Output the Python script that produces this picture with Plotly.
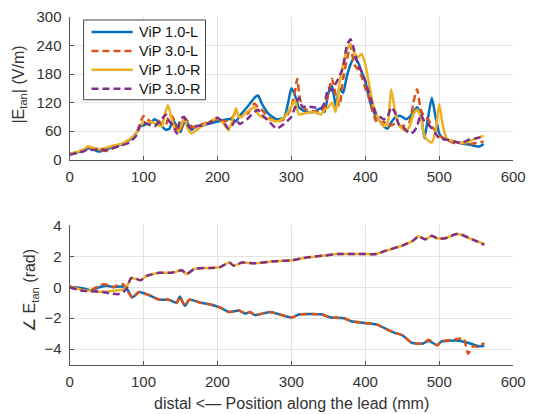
import plotly.graph_objects as go

# ---- |E_tan| magnitude along the lead (V/m) ----
mag_l1_x = [0, 10, 20, 25, 30, 40, 50, 60, 70, 80, 90, 95, 100, 110, 115, 120, 125, 130, 135, 140,
            145, 150, 155, 160, 165, 170, 180, 190, 200, 210, 220, 225, 230, 240, 245, 250, 255, 260,
            265, 270, 280, 290, 295, 300, 305, 310, 320, 330, 340, 345, 350, 355, 360, 365, 370, 375,
            380, 385, 390, 395, 400, 405, 410, 415, 420, 425, 430, 435, 440, 445, 450, 455, 460, 465,
            470, 475, 480, 485, 490, 495, 500, 505, 510, 520, 530, 540, 550, 555, 560]
mag_l1_y = [12, 15, 20, 24, 22, 17, 22, 27, 32, 40, 55, 70, 72, 78, 85, 80, 70, 63, 65, 82,
            72, 58, 78, 76, 62, 70, 72, 76, 80, 84, 85, 80, 92, 110, 120, 130, 135, 118,
            105, 95, 85, 88, 115, 150, 135, 110, 100, 100, 108, 100, 140, 155, 113, 150, 140, 175,
            200, 215, 205, 185, 165, 130, 105, 90, 80, 70, 65, 78, 88, 92, 90, 85, 90, 100,
            110, 95, 45, 90, 130, 90, 55, 45, 42, 38, 34, 32, 28, 28, 33]

mag_l3_x = [0, 10, 20, 25, 30, 40, 50, 60, 70, 80, 90, 95, 100, 105, 110, 115, 120, 125, 130, 135,
            140, 145, 150, 155, 160, 165, 170, 180, 190, 200, 210, 220, 225, 230, 240, 250, 255, 260,
            270, 280, 290, 295, 300, 305, 308, 312, 320, 330, 340, 345, 350, 355, 360, 365, 370, 375,
            380, 385, 390, 395, 400, 405, 410, 415, 420, 425, 430, 440, 450, 460, 465, 470, 475, 480,
            485, 490, 495, 500, 510, 520, 530, 540, 550, 560]
mag_l3_y = [12, 15, 22, 26, 22, 20, 18, 25, 30, 38, 52, 75, 92, 85, 80, 78, 82, 75, 72, 95,
            88, 65, 60, 88, 80, 70, 68, 75, 80, 85, 80, 88, 100, 90, 95, 118, 110, 105,
            88, 80, 85, 95, 110, 145, 170, 125, 105, 102, 100, 110, 140, 170, 135, 113, 170, 210,
            240, 200, 190, 175, 150, 130, 100, 80, 75, 80, 70, 75, 70, 80, 120, 148, 105, 90,
            85, 70, 60, 50, 42, 35, 35, 32, 35, 38]

mag_r1_x = [0, 10, 20, 25, 30, 40, 50, 60, 70, 80, 90, 95, 100, 105, 110, 120, 125, 128, 133, 140,
            145, 150, 155, 160, 165, 170, 180, 190, 200, 210, 215, 220, 225, 230, 240, 250, 255, 260,
            270, 280, 290, 300, 305, 310, 320, 330, 340, 345, 350, 355, 360, 365, 370, 375, 380, 385,
            390, 395, 400, 405, 410, 415, 420, 425, 430, 435, 440, 445, 450, 455, 460, 465, 470, 475,
            480, 485, 490, 495, 500, 505, 510, 520, 530, 540, 550, 560]
mag_r1_y = [12, 16, 22, 28, 26, 22, 25, 30, 33, 42, 55, 68, 80, 75, 80, 72, 70, 90, 115, 75,
            55, 68, 88, 65, 55, 60, 72, 80, 88, 72, 62, 82, 108, 88, 100, 110, 95, 90,
            85, 80, 88, 112, 125, 95, 98, 100, 95, 105, 110, 120, 100, 160, 200, 230, 243, 225,
            215, 222, 200, 160, 120, 95, 80, 70, 75, 148, 105, 75, 65, 60, 70, 95, 105, 90,
            50, 40, 36, 60, 117, 70, 45, 38, 35, 38, 45, 50]

mag_r3_x = [0, 10, 20, 25, 30, 40, 50, 60, 70, 80, 90, 95, 100, 110, 115, 120, 125, 130, 135, 140,
            145, 150, 155, 160, 165, 170, 180, 190, 200, 210, 215, 220, 225, 230, 240, 250, 255, 260,
            270, 280, 290, 300, 305, 310, 315, 320, 330, 340, 345, 350, 355, 360, 365, 370, 375, 380,
            385, 390, 395, 400, 405, 410, 415, 420, 425, 430, 435, 440, 445, 450, 455, 460, 465, 470,
            475, 480, 485, 490, 495, 500, 510, 520, 530, 540, 550, 560]
mag_r3_y = [10, 14, 18, 22, 20, 22, 20, 25, 30, 35, 50, 70, 78, 72, 70, 78, 85, 95, 80, 72,
            55, 85, 90, 72, 65, 70, 72, 78, 88, 75, 65, 72, 85, 75, 85, 100, 105, 95,
            80, 65, 75, 90, 110, 130, 110, 112, 110, 108, 120, 150, 145, 160, 175, 195, 240, 253,
            230, 200, 185, 165, 140, 115, 95, 90, 85, 90, 110, 100, 75, 70, 62, 55, 58, 70,
            95, 80, 75, 65, 55, 45, 42, 38, 35, 42, 45, 48]

# ---- phase of E_tan along the lead (rad) ----
ph_l1_x = [0, 10, 19, 30, 40, 50, 60, 68, 76, 85, 94, 107, 121, 134, 145, 149, 156, 162, 178, 189,
           203, 216, 229, 238, 244, 251, 271, 300, 311, 340, 353, 371, 381, 397, 415, 437, 450, 463,
           477, 486, 497, 503, 525, 540, 552, 561]
ph_l1_y = [0.02, -0.02, -0.07, -0.2, 0.0, 0.1, 0.02, 0.05, 0.0, -0.65, -0.3, -0.5, -0.8, -0.8, -1.0, -0.6,
           -1.2, -0.8, -1.0, -1.1, -1.3, -1.6, -1.5, -1.7, -1.6, -1.8, -1.6, -1.95, -1.75, -1.75, -1.95,
           -2.0, -2.2, -2.3, -2.4, -2.9, -3.1, -3.6, -3.65, -3.45, -3.75, -3.5, -3.45, -3.6, -3.8, -3.8]

ph_l3_x = [0, 10, 19, 30, 38, 46, 52, 59, 67, 72, 76, 85, 94, 107, 121, 134, 145, 149, 156, 162,
           178, 189, 203, 216, 229, 238, 244, 251, 271, 300, 311, 340, 353, 371, 381, 397, 415, 437,
           450, 463, 477, 486, 497, 503, 525, 533, 539, 546, 552, 561]
ph_l3_y = [0.05, -0.05, -0.2, -0.15, 0.05, 0.2, 0.15, 0.0, 0.2, 0.2, 0.0, -0.7, -0.3, -0.5, -0.8, -0.8,
           -1.0, -0.6, -1.2, -0.8, -1.0, -1.1, -1.3, -1.6, -1.5, -1.7, -1.6, -1.8, -1.6, -1.95, -1.75,
           -1.75, -1.95, -2.0, -2.2, -2.3, -2.4, -2.9, -3.1, -3.6, -3.65, -3.4, -3.75, -3.5, -3.35,
           -3.3, -4.3, -3.8, -3.85, -3.6]

ph_r1_x = [0, 15, 28, 45, 63, 72, 78, 83, 90, 96, 105, 121, 138, 152, 158, 169, 189, 203, 216, 222,
           233, 251, 273, 300, 317, 344, 362, 381, 397, 415, 428, 450, 464, 472, 481, 490, 497, 508,
           523, 530, 547, 561]
ph_r1_y = [0.0, -0.15, -0.22, -0.3, -0.2, -0.15, 0.1, 0.55, 0.55, 0.45, 0.75, 0.94, 0.94, 1.1, 0.85, 1.2,
           1.25, 1.3, 1.6, 1.4, 1.6, 1.55, 1.67, 1.75, 1.9, 2.05, 2.15, 2.15, 2.15, 2.15, 2.37, 2.7,
           3.0, 3.3, 3.1, 3.33, 3.17, 3.17, 3.44, 3.4, 3.05, 2.8]

ph_r3_x = [0, 15, 28, 45, 55, 65, 72, 78, 83, 90, 96, 105, 121, 138, 152, 158, 169, 189, 203, 216,
           222, 233, 251, 273, 300, 317, 344, 362, 381, 397, 415, 428, 450, 464, 472, 481, 490, 497,
           508, 523, 530, 547, 561]
ph_r3_y = [0.0, -0.2, -0.25, -0.3, -0.4, -0.45, -0.35, 0.0, 0.6, 0.55, 0.45, 0.75, 0.94, 0.94, 1.1,
           0.85, 1.2, 1.25, 1.3, 1.6, 1.4, 1.6, 1.55, 1.67, 1.75, 1.9, 2.05, 2.15, 2.15, 2.15, 2.15,
           2.37, 2.7, 3.0, 3.3, 3.1, 3.33, 3.17, 3.17, 3.44, 3.4, 3.05, 2.75]

names = ["ViP 1.0-L", "ViP 3.0-L", "ViP 1.0-R", "ViP 3.0-R"]
colors = ["#0072BD", "#D95319", "#EDB120", "#7E2F8E"]
dashes = ["solid", "7px,4px", "solid", "7px,4px"]

mag_series = [(mag_l1_x, mag_l1_y), (mag_l3_x, mag_l3_y), (mag_r1_x, mag_r1_y), (mag_r3_x, mag_r3_y)]
ph_series = [(ph_l1_x, ph_l1_y), (ph_l3_x, ph_l3_y), (ph_r1_x, ph_r1_y), (ph_r3_x, ph_r3_y)]

W, H = 536, 414
# drawing area of the page: origin and size in screen pixels
OX, OY, PW, PH = 4.0, 8.0, 528.0, 398.0


def fx(px):
    return (px - OX) / PW


def fy(py):
    return 1 - (py - OY) / PH


fig = go.Figure()
for (x, y), name, c, d in zip(mag_series, names, colors, dashes):
    fig.add_trace(go.Scatter(x=x, y=y, mode="lines", name=name, showlegend=False,
                             line=dict(color=c, width=2.5, dash=d, shape="spline", smoothing=0.5),
                             xaxis="x", yaxis="y"))
for (x, y), name, c, d in zip(ph_series, names, colors, dashes):
    fig.add_trace(go.Scatter(x=x, y=y, mode="lines", name=name, showlegend=False,
                             line=dict(color=c, width=2.5, dash=d, shape="spline", smoothing=0.5),
                             xaxis="x2", yaxis="y2"))

FONT = "Liberation Sans, Arial, sans-serif"
TXT = "#333333"
GRID = "#e3e3e3"
AX = "#555555"

axis_common = dict(showgrid=True, gridcolor=GRID, gridwidth=1, showline=True, linecolor=AX,
                   linewidth=1, ticks="inside", ticklen=4, tickcolor=AX, zeroline=False,
                   tickfont=dict(family=FONT, size=15, color=TXT), mirror=False,
                   ticklabeloverflow="allow")

xdom = [fx(70.7), fx(522)]
xticks = [0, 100, 200, 300, 400, 500, 600]
fig.update_layout(
    width=W, height=H,
    margin=dict(l=0, r=0, t=0, b=0),
    paper_bgcolor="white", plot_bgcolor="white",
    font=dict(family=FONT, color=TXT),
    xaxis=dict(domain=xdom, range=[0, 600], tickvals=xticks, anchor="y", ticklabelstandoff=3,
               **axis_common),
    yaxis=dict(domain=[fy(159), fy(16)], range=[0, 300],
               tickvals=[0, 60, 120, 180, 240, 300], anchor="x", ticklabelstandoff=4, **axis_common),
    xaxis2=dict(domain=xdom, range=[0, 600], tickvals=xticks, anchor="y2", ticklabelstandoff=3,
                **axis_common),
    yaxis2=dict(domain=[fy(364.5), fy(225)], range=[-5, 4],
                tickvals=[-4, -2, 0, 2, 4], anchor="x2", ticklabelstandoff=4, **axis_common),
    showlegend=False,
)

# legend box with line samples and labels
fig.add_shape(type="rect", xref="paper", yref="paper", x0=fx(85), x1=fx(209), y0=fy(99), y1=fy(19),
              line=dict(color="#444444", width=1), fillcolor="white", layer="above")
for i, (name, c, d) in enumerate(zip(names, colors, dashes)):
    ry = 31 + i * 19
    fig.add_shape(type="line", xref="paper", yref="paper", x0=fx(93), x1=fx(135), y0=fy(ry), y1=fy(ry),
                  line=dict(color=c, width=2.5, dash=d), layer="above")
    fig.add_annotation(text=name, x=fx(139), y=fy(ry), xref="paper", yref="paper", xanchor="left",
                       yanchor="middle", showarrow=False,
                       font=dict(family=FONT, size=14.5, color="#111111"))

fig.add_annotation(text="|E<sub>tan</sub>| (V/m)", x=fx(20), y=fy(84), xref="paper", yref="paper",
                   xanchor="center", yanchor="middle",
                   textangle=-90, showarrow=False, font=dict(family=FONT, size=16, color=TXT))
fig.add_annotation(text="∠ E<sub>tan</sub> (rad)", x=fx(31), y=fy(290), xref="paper", yref="paper",
                   xanchor="center", yanchor="middle",
                   textangle=-90, showarrow=False, font=dict(family=FONT, size=16, color=TXT))
fig.add_annotation(text="distal <— Position along the lead (mm)", x=fx(296), y=fy(403),
                   xref="paper", yref="paper", xanchor="center", yanchor="middle", showarrow=False,
                   font=dict(family=FONT, size=16, color=TXT))

fig.write_html("out.html")
